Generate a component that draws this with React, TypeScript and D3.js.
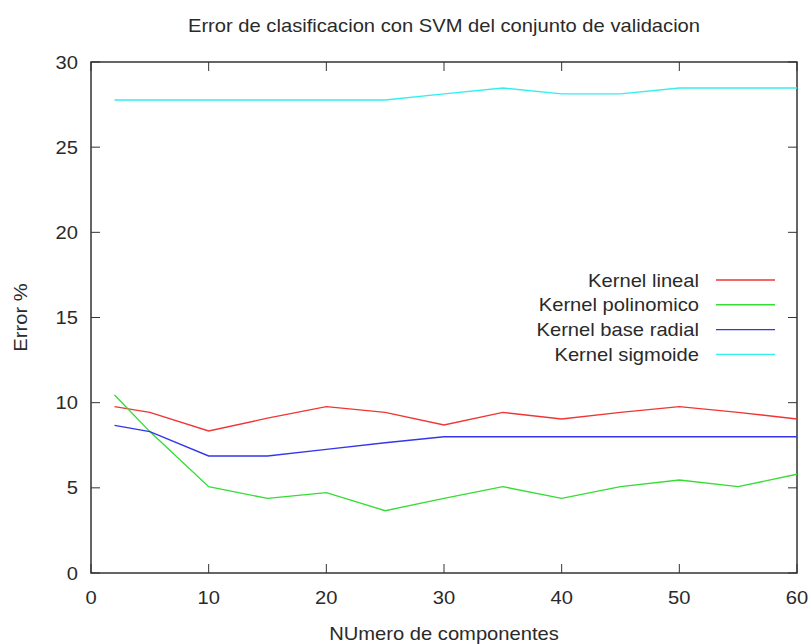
import React, { useEffect, useRef } from "react";
import * as d3 from "d3";

const xs = [2, 5, 10, 15, 20, 25, 30, 35, 40, 45, 50, 55, 60];
const lineal = [9.77, 9.43, 8.34, 9.09, 9.77, 9.43, 8.69, 9.43, 9.04, 9.43, 9.77, 9.43, 9.04];
const polinomico = [10.45, 8.3, 5.07, 4.38, 4.72, 3.66, 4.38, 5.07, 4.38, 5.07, 5.46, 5.07, 5.8];
const radial = [8.67, 8.3, 6.87, 6.87, 7.26, 7.65, 8.0, 8.0, 8.0, 8.0, 8.0, 8.0, 8.0];
const sigmoide = [27.77, 27.77, 27.77, 27.77, 27.77, 27.77, 28.13, 28.47, 28.13, 28.13, 28.47, 28.47, 28.47];

const seriesNames = ["Kernel lineal", "Kernel polinomico", "Kernel base radial", "Kernel sigmoide"];
const seriesColors = ["#f03535", "#35dd35", "#3535ee", "#35eeee"];
const xTicks = [0, 10, 20, 30, 40, 50, 60];
const yTicks = [0, 5, 10, 15, 20, 25, 30];

const App = () => {
  const svgRef = useRef<SVGSVGElement>(null);

  useEffect(() => {
    const svg = d3.select(svgRef.current);
    svg.selectAll("*").remove();

    const width = 811;
    const height = 644;
    const margin = { top: 62, right: 14, bottom: 71, left: 91 };
    const font = "'Liberation Sans', Arial, sans-serif";
    const ink = "#2a2a2a";
    const fs = 18;
    const stretch = 1.12;

    // text looks a bit wide in the original, so stretch it horizontally
    const label = (tx: number, ty: number, txt: string | number, anchor: string, rot = 0) =>
      svg
        .append("text")
        .attr("transform", `translate(${tx},${ty}) rotate(${rot}) scale(${stretch},1)`)
        .attr("text-anchor", anchor)
        .attr("font-family", font)
        .attr("font-size", fs)
        .attr("fill", ink)
        .text(txt);

    const x = d3.scaleLinear().domain([0, 60]).range([margin.left, width - margin.right]);
    const y = d3.scaleLinear().domain([0, 30]).range([height - margin.bottom, margin.top]);

    const frame = "#333";
    const tickLen = 9;

    // frame
    svg
      .append("rect")
      .attr("x", x(0))
      .attr("y", y(30))
      .attr("width", x(60) - x(0))
      .attr("height", y(0) - y(30))
      .attr("fill", "none")
      .attr("stroke", frame)
      .attr("stroke-width", 1.5);

    // ticks (inside, mirrored)
    xTicks.forEach((t) => {
      svg.append("line").attr("x1", x(t)).attr("x2", x(t)).attr("y1", y(0)).attr("y2", y(0) - tickLen).attr("stroke", frame);
      svg.append("line").attr("x1", x(t)).attr("x2", x(t)).attr("y1", y(30)).attr("y2", y(30) + tickLen).attr("stroke", frame);
      label(x(t), y(0) + 31, t, "middle");
    });
    yTicks.forEach((t) => {
      svg.append("line").attr("x1", x(0)).attr("x2", x(0) + tickLen).attr("y1", y(t)).attr("y2", y(t)).attr("stroke", frame);
      svg.append("line").attr("x1", x(60)).attr("x2", x(60) - tickLen).attr("y1", y(t)).attr("y2", y(t)).attr("stroke", frame);
      label(x(0) - 13, y(t) + 6.5, t, "end");
    });

    // lines
    const data = [lineal, polinomico, radial, sigmoide];
    const line = d3
      .line<number>()
      .x((_, i) => x(xs[i]))
      .y((d) => y(d));

    data.forEach((vals, i) => {
      svg
        .append("path")
        .datum(vals)
        .attr("fill", "none")
        .attr("stroke", seriesColors[i])
        .attr("stroke-width", 1.4)
        .attr("d", line);
    });

    // legend
    seriesNames.forEach((name, i) => {
      const ly = 280 + i * 24.8;
      label(699, ly + 6.5, name, "end");
      svg
        .append("line")
        .attr("x1", 716)
        .attr("x2", 775)
        .attr("y1", ly)
        .attr("y2", ly)
        .attr("stroke", seriesColors[i])
        .attr("stroke-width", 1.4);
    });

    // title and axis labels
    label(444, 32, "Error de clasificacion con SVM del conjunto de validacion", "middle");
    label(444, 640, "NUmero de componentes", "middle");
    label(27, y(15), "Error %", "middle", -90);
  }, []);

  return <svg ref={svgRef} width={811} height={644} style={{ position: "absolute", left: 0, top: 0 }} />;
};

export default App;
